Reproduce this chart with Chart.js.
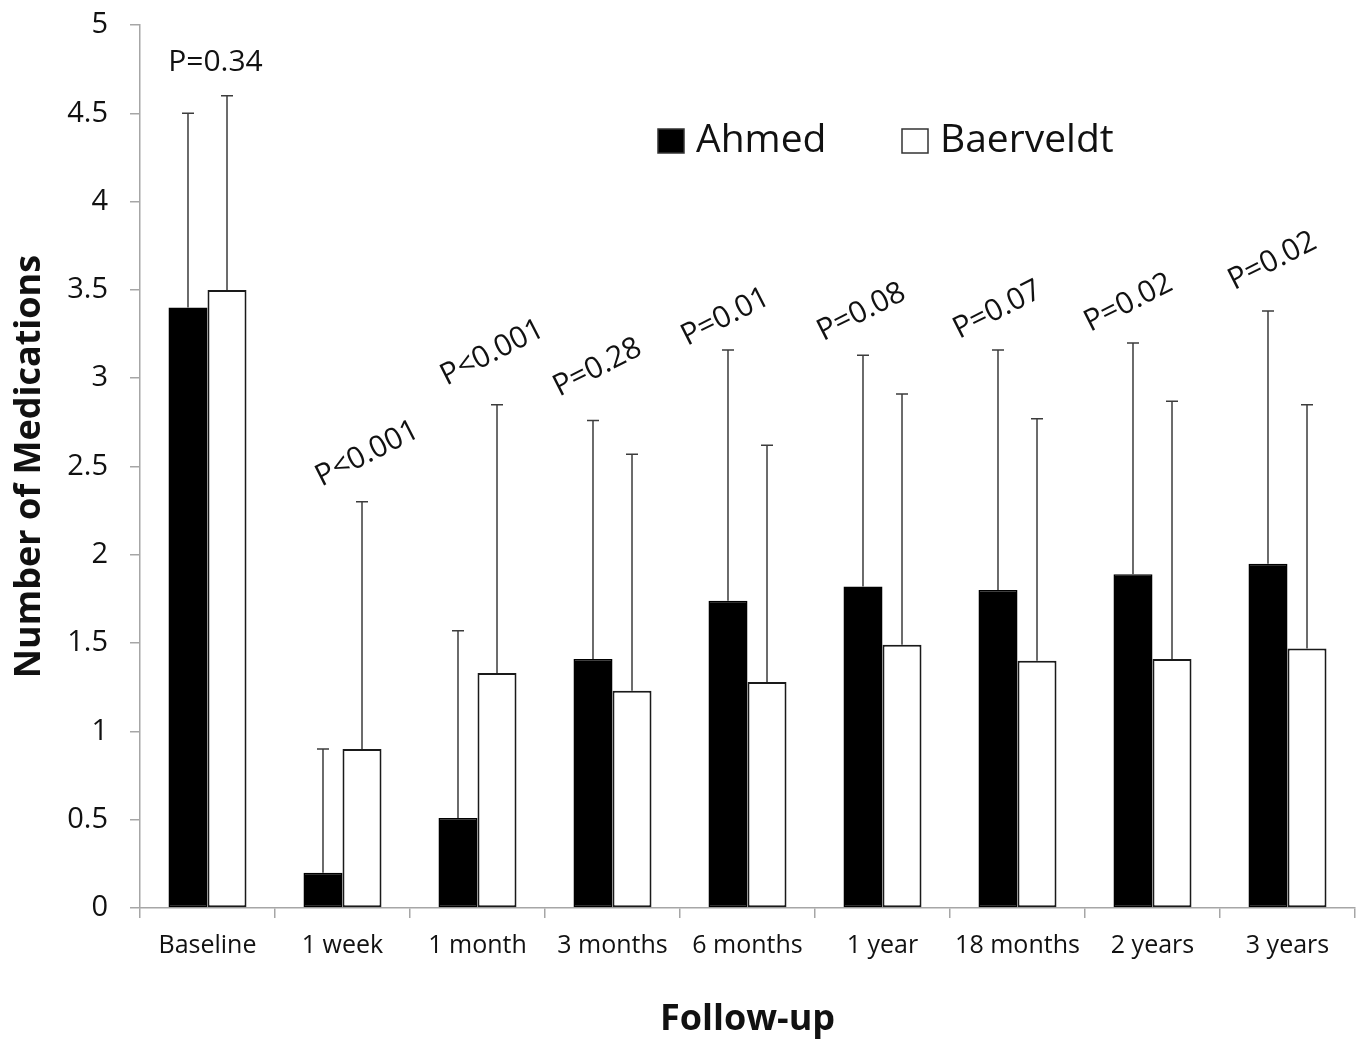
<!DOCTYPE html>
<html>
<head>
<meta charset="utf-8">
<script src="https://cdn.jsdelivr.net/npm/chart.js@4.4.1/dist/chart.umd.min.js"></script>
<style>
  html, body { margin: 0; padding: 0; background: #fff; }
  #wrap { width: 1363px; height: 1044px; }
</style>
</head>
<body>
<div id="wrap"><canvas id="medChart" width="1363" height="1044"></canvas></div>
<script>
// values
const categories = ['Baseline', '1 week', '1 month', '3 months', '6 months', '1 year', '18 months', '2 years', '3 years'];
const ahmedMean = [3.40, 0.20, 0.51, 1.41, 1.74, 1.82, 1.80, 1.89, 1.95];
const ahmedUpper = [4.50, 0.90, 1.57, 2.76, 3.16, 3.13, 3.16, 3.20, 3.38];
const baerveldtMean = [3.50, 0.90, 1.33, 1.23, 1.28, 1.49, 1.40, 1.41, 1.47];
const baerveldtUpper = [4.60, 2.30, 2.85, 2.57, 2.62, 2.91, 2.77, 2.87, 2.85];
const pValues = ['P=0.34', 'P<0.001', 'P<0.001', 'P=0.28', 'P=0.01', 'P=0.08', 'P=0.07', 'P=0.02', 'P=0.02'];
const yTicks = [0, 0.5, 1, 1.5, 2, 2.5, 3, 3.5, 4, 4.5, 5];

const FONT = "'Open Sans', 'DejaVu Sans', sans-serif";
const AXIS_GREY = '#a6a6a6';
const TEXT = '#111';

// one-sided (upper) error bars with a small cap
const errorBars = {
	id: 'errorBars',
	afterDatasetsDraw(chart) {
		const ctx = chart.ctx;
		const y = chart.scales.y;
		ctx.save();
		ctx.strokeStyle = '#3c3c3c';
		ctx.lineWidth = 1.5;
		chart.data.datasets.forEach((ds, d) => {
			const meta = chart.getDatasetMeta(d);
			meta.data.forEach((bar, i) => {
				const top = y.getPixelForValue(ds.errorUpper[i]);
				ctx.beginPath();
				ctx.moveTo(bar.x, bar.y);
				ctx.lineTo(bar.x, top);
				ctx.moveTo(bar.x - 6, top);
				ctx.lineTo(bar.x + 6, top);
				ctx.stroke();
			});
		});
		ctx.restore();
	}
};

// p-value labels, nudged off the taller error bar of each pair
const pNudge = [[8, 33], [25, 48], [15, 52], [-15, 53], [-22, 33], [-21, 43], [-20, 40], [-24, 40], [-15, 50]];
const pLabels = {
	id: 'pLabels',
	afterDraw(chart) {
		const ctx = chart.ctx;
		const x = chart.scales.x, y = chart.scales.y;
		ctx.save();
		ctx.fillStyle = TEXT;
		ctx.font = '30px ' + FONT;
		ctx.textAlign = 'center';
		ctx.textBaseline = 'middle';
		pValues.forEach((txt, i) => {
			const top = y.getPixelForValue(Math.max(ahmedUpper[i], baerveldtUpper[i]));
			const cx = x.getPixelForValue(i) + pNudge[i][0];
			const cy = top - pNudge[i][1];
			ctx.save();
			ctx.translate(cx, cy);
			if (i > 0) ctx.rotate(-27 * Math.PI / 180);
			ctx.fillText(txt, 0, 0);
			ctx.restore();
		});
		ctx.restore();
	}
};

// legend drawn inside the plot area
const innerLegend = {
	id: 'innerLegend',
	afterDraw(chart) {
		const ctx = chart.ctx;
		const area = chart.chartArea;
		const ly = area.top + 116;
		const starts = [area.left + 518, area.left + 762];
		ctx.save();
		ctx.font = '39px ' + FONT;
		ctx.textBaseline = 'middle';
		chart.data.datasets.forEach((ds, d) => {
			const lx = starts[d];
			ctx.fillStyle = ds.backgroundColor;
			ctx.fillRect(lx, ly - 12, 26, 24);
			ctx.strokeStyle = '#333';
			ctx.lineWidth = 1.5;
			ctx.strokeRect(lx, ly - 12, 26, 24);
			ctx.fillStyle = TEXT;
			ctx.fillText(ds.label, lx + 38, ly);
		});
		ctx.restore();
	}
};

const chartEle = document.getElementById('medChart');
const medChart = new Chart(chartEle, {
	type: 'bar',
	data: {
		labels: categories,
		datasets: [{
			label: 'Ahmed',
			data: ahmedMean,
			errorUpper: ahmedUpper,
			backgroundColor: '#000',
			borderColor: '#000',
			borderWidth: 1.5,
			borderSkipped: false
		}, {
			label: 'Baerveldt',
			data: baerveldtMean,
			errorUpper: baerveldtUpper,
			backgroundColor: '#fff',
			borderColor: '#1a1a1a',
			borderWidth: 2,
			borderSkipped: false
		}]
	},
	options: {
		responsive: false,
		animation: false,
		devicePixelRatio: 1,
		categoryPercentage: 0.578,
		barPercentage: 1.0,
		layout: { padding: { top: 25, right: 8, left: 0, bottom: 0 } },
		plugins: {
			legend: { display: false },
			tooltip: { enabled: false }
		},
		scales: {
			x: {
				afterFit(scale) { scale.height = 136; },
				grid: { offset: true, drawOnChartArea: false, tickLength: 10, color: AXIS_GREY, lineWidth: 1.5 },
				border: { color: AXIS_GREY, width: 1.5 },
				ticks: { color: TEXT, font: { family: FONT, size: 25 }, padding: 13, maxRotation: 0, autoSkip: false },
				title: { display: true, text: 'Follow-up', color: TEXT, font: { family: FONT, size: 36, weight: 'bold' }, padding: { top: 0, bottom: 3 } }
			},
			y: {
				min: 0,
				max: 5,
				afterFit(scale) {
					scale.width = 140;
					scale.paddingTop = 0;
					scale.paddingBottom = 0;
				},
				afterBuildTicks(scale) { scale.ticks = yTicks.map(v => ({ value: v })); },
				grid: { drawOnChartArea: false, tickLength: 10, color: AXIS_GREY, lineWidth: 1.5 },
				border: { color: AXIS_GREY, width: 1.5 },
				ticks: { color: TEXT, font: { family: FONT, size: 29 }, padding: 22, callback: v => String(v) },
				title: { display: true, text: 'Number of Medications', color: TEXT, font: { family: FONT, size: 36, weight: 'bold' }, padding: { top: 8, bottom: 0 } }
			}
		}
	},
	plugins: [errorBars, pLabels, innerLegend]
});
</script>
</body>
</html>
